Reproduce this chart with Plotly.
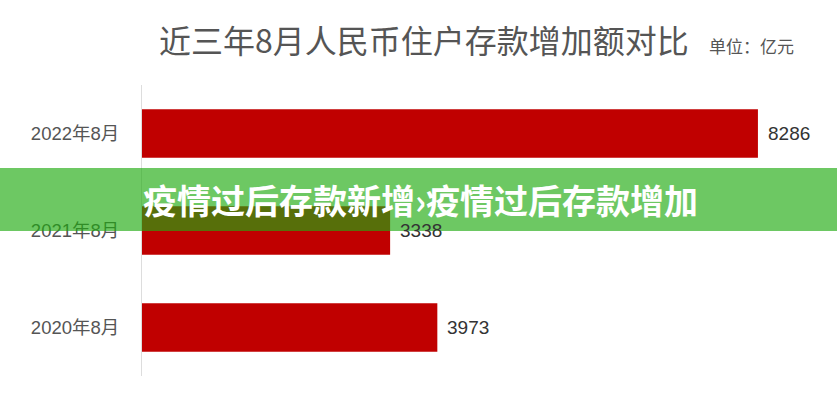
import plotly.graph_objects as go

# data
months = ["2022年8月", "2021年8月", "2020年8月"]
deposits = [8286, 3338, 3973]   # 亿元

title_text = "近三年8月人民币住户存款增加额对比"
unit_text = "单位：亿元"
banner_text = "疫情过后存款新增›疫情过后存款增加"

cjk = "Liberation Sans, Noto Sans CJK SC, sans-serif"

# page size and plot area in pixels
W, H = 837, 400
L, R, T, B = 142, 26, 85, 24
pw, ph = W - L - R, H - T - B


def px_x(x):
    # pixel -> paper coordinate
    return (x - L) / pw


def px_y(y):
    return 1 - (y - T) / ph


fig = go.Figure()
fig.add_trace(go.Bar(
    x=deposits,
    y=months,
    orientation="h",
    marker=dict(color="#c00000", line=dict(width=0)),
    hoverinfo="x+y",
))

# value labels to the right of each bar
for m, v in zip(months, deposits):
    fig.add_annotation(
        x=v, y=m, text=str(v), showarrow=False,
        xanchor="left", yanchor="middle", xshift=8,
        font=dict(family=cjk, size=19, color="#333333"),
    )

# title + unit
fig.add_annotation(
    x=px_x(424), y=px_y(39), xref="paper", yref="paper", text=title_text,
    showarrow=False, xanchor="center", yanchor="middle",
    font=dict(family="Noto Sans CJK SC", size=32, color="#555555"),
)
fig.add_annotation(
    x=px_x(707), y=px_y(45), xref="paper", yref="paper", text=unit_text,
    showarrow=False, xanchor="left", yanchor="middle",
    font=dict(family="Noto Sans CJK SC", size=17, color="#555555"),
)

# green banner laid over the chart
fig.add_shape(
    type="rect", xref="paper", yref="paper",
    x0=px_x(-2), x1=px_x(W + 2), y0=px_y(231), y1=px_y(168),
    fillcolor="rgba(30,170,15,0.65)", line=dict(width=0), layer="above",
)
fig.add_annotation(
    x=px_x(141), y=px_y(199), xref="paper", yref="paper",
    text="<b>" + banner_text + "</b>", showarrow=False,
    xanchor="left", yanchor="middle",
    font=dict(family="Noto Sans CJK SC", size=34, color="#ffffff"),
)

fig.update_layout(
    width=W, height=H,
    margin=dict(l=L, r=R, t=T, b=B),
    paper_bgcolor="white", plot_bgcolor="white",
    showlegend=False,
    bargap=0.5,
    xaxis=dict(range=[0, 9000], visible=False),
    yaxis=dict(
        categoryorder="array", categoryarray=months, autorange="reversed",
        showline=True, linecolor="#dddddd", linewidth=1,
        showgrid=False, zeroline=False,
        ticks="outside", ticklen=0, ticklabelstandoff=18,
        tickfont=dict(family=cjk, size=18.5, color="#555555"),
    ),
)

fig.write_html(
    "out.html",
    config={"displayModeBar": False},
    post_script="document.body.style.margin='0px';",
)
